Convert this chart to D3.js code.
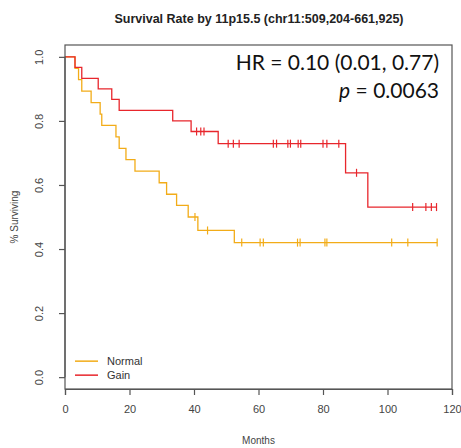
<!DOCTYPE html>
<html>
<head>
<meta charset="utf-8">
<script src="https://cdn.jsdelivr.net/npm/d3@7"></script>
<style>
  body { margin: 0; background: #fff; }
  svg { display: block; }
</style>
</head>
<body>
<div id="wrapper"></div>
<script>
// event times (months) and survival after each event
const normalTimes = [3.1, 4.2, 5.2, 8.1, 10.9, 11.4, 15.8, 16.8, 18.9, 21.7, 29.2, 31.5, 34.6, 38.2, 41.2, 52.5]
const normalSurv = [0.964, 0.929, 0.893, 0.857, 0.821, 0.786, 0.75, 0.714, 0.679, 0.643, 0.607, 0.571, 0.536, 0.5, 0.458, 0.42]
const normalCensor = [40.3, 44.2, 54.8, 60.5, 61.5, 72.1, 72.9, 80.6, 81.2, 101.3, 106.3, 115.4]
const normalEnd = 115.4

const gainTimes = [3.1, 5.2, 10.3, 14.5, 16.8, 33.4, 39.1, 47.5, 87.0, 93.9]
const gainSurv = [0.967, 0.933, 0.9, 0.867, 0.833, 0.8, 0.767, 0.729, 0.638, 0.531]
const gainCensor = [40.8, 42.1, 43.1, 50.6, 52.2, 54.0, 64.6, 65.6, 69.1, 69.9, 72.3, 73.1, 80.0, 81.2, 84.9, 90.4, 107.8, 111.9, 113.6, 115.2]
const gainEnd = 115.3

const xTicks = [0, 20, 40, 60, 80, 100, 120]
const yTicks = [0, 0.2, 0.4, 0.6, 0.8, 1.0]

const groups = [
  { name: "Normal", times: normalTimes, surv: normalSurv, censor: normalCensor, end: normalEnd, color: "#F2AC18" },
  { name: "Gain", times: gainTimes, surv: gainSurv, censor: gainCensor, end: gainEnd, color: "#E8262C" },
]

const dimensions = {
  width: 461,
  height: 448,
  margin: { top: 45, right: 9, bottom: 59, left: 65 },
}
dimensions.boundedWidth = dimensions.width - dimensions.margin.left - dimensions.margin.right
dimensions.boundedHeight = dimensions.height - dimensions.margin.top - dimensions.margin.bottom

const svg = d3.select("#wrapper")
  .append("svg")
    .attr("width", dimensions.width)
    .attr("height", dimensions.height)
    .style("font-family", "'Liberation Sans', Arial, sans-serif")

const bounds = svg.append("g")
    .attr("transform", `translate(${dimensions.margin.left},${dimensions.margin.top})`)

const xScale = d3.scaleLinear()
  .domain([0, 120])
  .range([0, dimensions.boundedWidth])

// R-style 4% padding on y
const yScale = d3.scaleLinear()
  .domain([-0.037, 1.037])
  .range([dimensions.boundedHeight, 0])

// step value at time t
const survAt = (g, t) => {
  let s = 1
  g.times.forEach((tt, i) => { if (tt <= t) s = g.surv[i] })
  return s
}

const lineGenerator = d3.line()
  .x(d => xScale(d[0]))
  .y(d => yScale(d[1]))
  .curve(d3.curveStepAfter)

groups.forEach(g => {
  const pts = [[0, 1], ...g.times.map((t, i) => [t, g.surv[i]]), [g.end, g.surv[g.surv.length - 1]]]
  bounds.append("path")
      .attr("d", lineGenerator(pts))
      .attr("fill", "none")
      .attr("stroke", g.color)
      .attr("stroke-width", 1.3)

  bounds.selectAll(null)
    .data(g.censor)
    .enter().append("line")
      .attr("x1", d => xScale(d))
      .attr("x2", d => xScale(d))
      .attr("y1", d => yScale(survAt(g, d)) - 4)
      .attr("y2", d => yScale(survAt(g, d)) + 4)
      .attr("stroke", g.color)
      .attr("stroke-width", 1.2)
})

// box
bounds.append("rect")
    .attr("width", dimensions.boundedWidth)
    .attr("height", dimensions.boundedHeight)
    .attr("fill", "none")
    .attr("stroke", "#555")
    .attr("stroke-width", 1.2)

// x axis
const xAxis = bounds.append("g")
    .attr("transform", `translate(0,${dimensions.boundedHeight})`)
    .call(d3.axisBottom(xScale).tickValues(xTicks).tickSize(6).tickPadding(10).tickFormat(d3.format("d")))
xAxis.select(".domain").attr("stroke", "#555").attr("stroke-width", 1.2)
xAxis.selectAll(".tick line").attr("stroke", "#555").attr("stroke-width", 1.2)
xAxis.selectAll(".tick text")
    .attr("fill", "#444")
    .style("font-size", "11px")
    .style("font-family", "'Liberation Sans', Arial, sans-serif")

xAxis.append("text")
    .attr("x", dimensions.boundedWidth / 2)
    .attr("y", 55)
    .attr("fill", "#444")
    .attr("text-anchor", "middle")
    .style("font-size", "10px")
    .text("Months")

// y axis
const yAxis = bounds.append("g")
    .call(d3.axisLeft(yScale).tickValues(yTicks).tickSize(6).tickFormat(d3.format(".1f")))
yAxis.select(".domain").remove()
yAxis.append("line")
    .attr("y1", yScale(0)).attr("y2", yScale(1))
    .attr("stroke", "#555").attr("stroke-width", 1.2)
yAxis.selectAll(".tick line").attr("stroke", "#555").attr("stroke-width", 1.2)
yAxis.selectAll(".tick text")
    .attr("x", 0).attr("dy", null)
    .attr("transform", "translate(-22,0) rotate(-90)")
    .attr("text-anchor", "middle")
    .attr("fill", "#444")
    .style("font-size", "11px")
    .style("font-family", "'Liberation Sans', Arial, sans-serif")

yAxis.append("text")
    .attr("transform", `translate(-47,${dimensions.boundedHeight / 2}) rotate(-90)`)
    .attr("fill", "#444")
    .attr("text-anchor", "middle")
    .style("font-size", "10px")
    .text("% Surviving")

// title
svg.append("text")
    .attr("x", 259)
    .attr("y", 23)
    .attr("text-anchor", "middle")
    .attr("fill", "#222")
    .style("font-size", "12.5px")
    .style("font-weight", "bold")
    .text("Survival Rate by 11p15.5 (chr11:509,204-661,925)")

// stats
svg.append("text")
    .attr("x", 439)
    .attr("y", 70)
    .attr("text-anchor", "end")
    .attr("fill", "#111")
    .style("font-family", "Lato, 'Open Sans', sans-serif")
    .style("font-size", "21px")
    .text("HR = 0.10 (0.01, 0.77)")

const pText = svg.append("text")
    .attr("x", 439)
    .attr("y", 98)
    .attr("text-anchor", "end")
    .attr("fill", "#111")
    .style("font-family", "Lato, 'Open Sans', sans-serif")
    .style("font-size", "21px")
pText.append("tspan").style("font-style", "italic").text("p")
pText.append("tspan").text(" = 0.0063")

// legend
const legend = bounds.append("g")
    .attr("transform", `translate(10,${yScale(0) - 16})`)
groups.forEach((g, i) => {
  legend.append("line")
      .attr("x1", 0).attr("x2", 23)
      .attr("y1", i * 14).attr("y2", i * 14)
      .attr("stroke", g.color)
      .attr("stroke-width", 1.5)
  legend.append("text")
      .attr("x", 32)
      .attr("y", i * 14)
      .attr("dy", "0.35em")
      .attr("fill", "#333")
      .style("font-size", "11px")
      .text(g.name)
})
</script>
</body>
</html>
